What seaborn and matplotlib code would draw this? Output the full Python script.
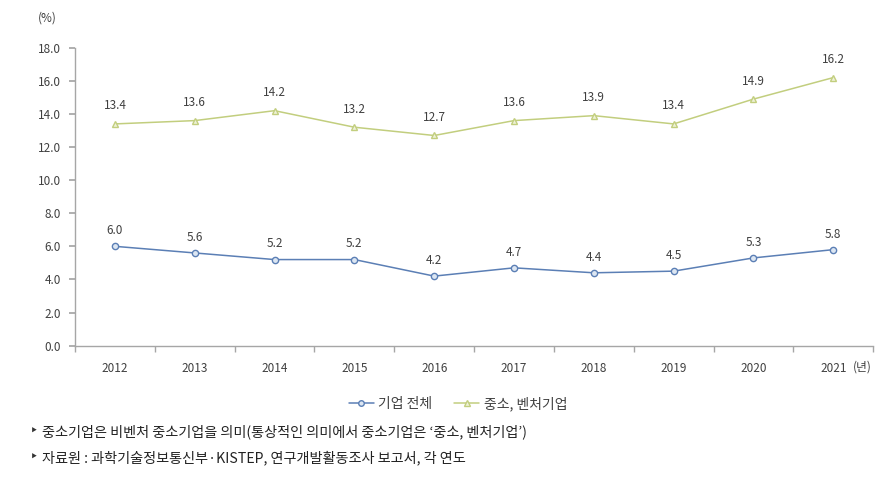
import matplotlib
matplotlib.use("Agg")
import matplotlib.pyplot as plt
import seaborn as sns
import pandas as pd
import numpy as np

years = ["2012", "2013", "2014", "2015", "2016", "2017", "2018", "2019", "2020", "2021"]
all_firms = [6.0, 5.6, 5.2, 5.2, 4.2, 4.7, 4.4, 4.5, 5.3, 5.8]
sme_venture = [13.4, 13.6, 14.2, 13.2, 12.7, 13.6, 13.9, 13.4, 14.9, 16.2]
series_names = ["기업 전체", "중소, 벤처기업"]
y_ticks = [0, 2, 4, 6, 8, 10, 12, 14, 16, 18]

sns.set_theme(style="white")
plt.rcParams['font.family'] = ['Noto Sans CJK KR', 'DejaVu Sans']

fig = plt.figure(figsize=(8.91, 4.83), dpi=100)
ax = fig.add_axes([0.0842, 0.2845, 0.8958, 0.6165])

pos = np.arange(len(years))
df = pd.DataFrame({
    "pos": np.concatenate([pos, pos]),
    "value": all_firms + sme_venture,
    "series": [series_names[0]] * len(years) + [series_names[1]] * len(years),
})

blue = "#5B7FB5"
green = "#C2CE7E"
palette = {series_names[0]: blue, series_names[1]: green}
sns.lineplot(data=df, x="pos", y="value", hue="series", palette=palette,
             style="series", markers={series_names[0]: "o", series_names[1]: "^"},
             dashes=False, markersize=4.5, linewidth=1.1, ax=ax, legend=False,
             markeredgewidth=1.0)

for line, col, fc in zip(ax.lines, [blue, green], ["#DCE6F2", "#EEF2D8"]):
    line.set_markeredgecolor(col)
    line.set_markerfacecolor(fc)

text_col = "#404040"
for x, v in zip(pos, all_firms):
    ax.text(x, v + 0.55, f"{v:.1f}", ha="center", va="bottom", fontsize=8.5, color=text_col)
for x, v in zip(pos, sme_venture):
    ax.text(x, v + 0.7, f"{v:.1f}", ha="center", va="bottom", fontsize=8.5, color=text_col)

ax.set_xlim(-0.5, len(years) - 0.5)
ax.set_ylim(0, 18)
ax.set_yticks(y_ticks)
ax.set_yticklabels([f"{t:.1f}" for t in y_ticks], fontsize=8.5, color=text_col)
ax.set_xticks(pos)
ax.set_xticklabels(years, fontsize=8.5, color=text_col)
ax.set_xlabel("")
ax.set_ylabel("")

for s in ["top", "right"]:
    ax.spines[s].set_visible(False)
for s in ["left", "bottom"]:
    ax.spines[s].set_color("#A6A6A6")
    ax.spines[s].set_linewidth(1.0)

ax.tick_params(axis="y", which="both", length=4, color="#A6A6A6", direction="out", pad=6, left=True)
ax.tick_params(axis="x", which="major", length=0, pad=12)
ax.set_xticks(np.arange(-0.5, len(years), 1.0), minor=True)
ax.tick_params(axis="x", which="minor", length=4, color="#A6A6A6", direction="out", bottom=True)

fig.text(47 / 891, 1 - 18 / 483, "(%)", fontsize=8.5, color=text_col, ha="center", va="center")
fig.text(862 / 891, 1 - 367 / 483, "(년)", fontsize=8.5, color=text_col, ha="center", va="center")

from matplotlib.lines import Line2D
handles = [
    Line2D([0], [0], color=blue, marker="o", markersize=4, markerfacecolor="#DCE6F2",
           markeredgecolor=blue, linewidth=1.1),
    Line2D([0], [0], color=green, marker="^", markersize=4, markerfacecolor="#EEF2D8",
           markeredgecolor=green, linewidth=1.1),
]
fig.legend(handles, series_names, loc="center", bbox_to_anchor=(458 / 891, 1 - 404 / 483),
           ncol=2, frameon=False, fontsize=10, handlelength=1.8, handletextpad=0.3,
           columnspacing=1.6, labelcolor=text_col)

fig.text(30 / 891, 1 - 432 / 483, "‣", fontsize=10, color="#333333", va="center",
         family=["DejaVu Sans"])
fig.text(42 / 891, 1 - 432 / 483, "중소기업은 비벤처 중소기업을 의미(통상적인 의미에서 중소기업은 ‘중소, 벤처기업’)",
         fontsize=10.2, color="#222222", va="center")
fig.text(30 / 891, 1 - 458 / 483, "‣", fontsize=10, color="#333333", va="center",
         family=["DejaVu Sans"])
fig.text(42 / 891, 1 - 458 / 483, "자료원 : 과학기술정보통신부·KISTEP, 연구개발활동조사 보고서, 각 연도",
         fontsize=10.2, color="#222222", va="center")

fig.savefig("out.png", dpi=100)
